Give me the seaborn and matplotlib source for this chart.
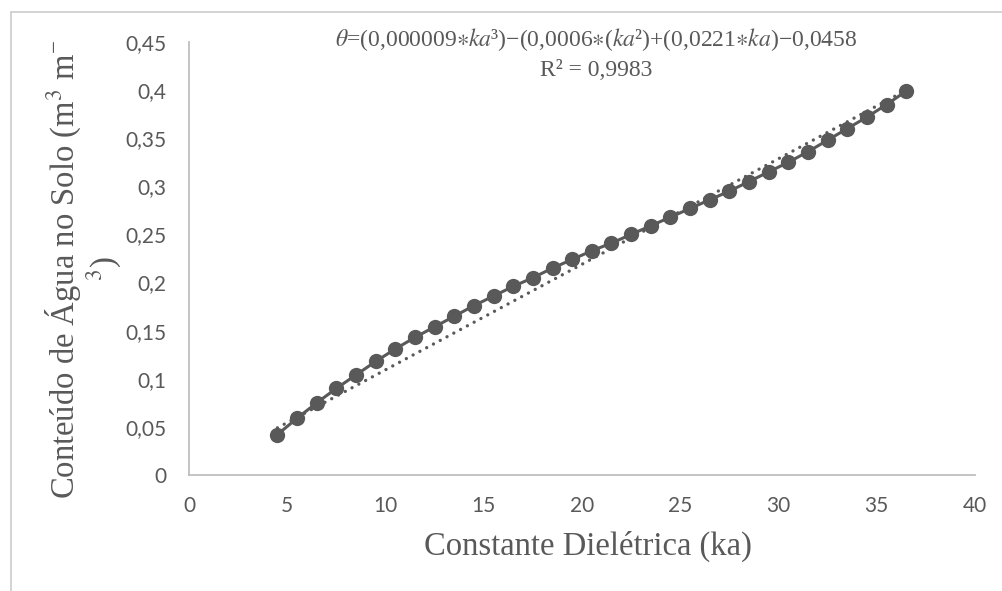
import numpy as np
import pandas as pd
import matplotlib
matplotlib.use("Agg")
import matplotlib.pyplot as plt
from matplotlib.lines import Line2D
import seaborn as sns

# ---- data ----
ka = [4.5, 5.5, 6.5, 7.5, 8.5, 9.5, 10.5, 11.5, 12.5, 13.5, 14.5, 15.5, 16.5,
      17.5, 18.5, 19.5, 20.5, 21.5, 22.5, 23.5, 24.5, 25.5, 26.5, 27.5, 28.5,
      29.5, 30.5, 31.5, 32.5, 33.5, 34.5, 35.5, 36.5]
theta = [0.042, 0.059, 0.075, 0.090, 0.104, 0.118, 0.131, 0.143, 0.154, 0.165,
         0.176, 0.186, 0.196, 0.205, 0.215, 0.224, 0.233, 0.241, 0.250, 0.259,
         0.268, 0.277, 0.286, 0.295, 0.305, 0.315, 0.325, 0.336, 0.348, 0.360,
         0.372, 0.385, 0.399]
trend_ka = [4.5, 36.5]
trend_theta = [0.049, 0.400]
x_ticks = [0, 5, 10, 15, 20, 25, 30, 35, 40]
y_ticks = [0, 0.05, 0.1, 0.15, 0.2, 0.25, 0.3, 0.35, 0.4, 0.45]
y_tick_labels = ["0", "0,05", "0,1", "0,15", "0,2", "0,25", "0,3", "0,35", "0,4", "0,45"]
eq_text = r"$\it{\theta}$=(0,000009$\ast$$\it{ka}$³)−(0,0006$\ast$($\it{ka}$²)+(0,0221$\ast$$\it{ka}$)−0,0458"
r2_text = "R² = 0,9983"
x_label = "Constante Dielétrica (ka)"
y_label = "Conteúdo de Água no Solo (m$^{3}$ m$^{\\mathdefault{-}}$\n$^{3}$)"

sns.set_theme(style="white")
plt.rcParams["font.family"] = ["Lato", "DejaVu Sans"]
plt.rcParams["mathtext.fontset"] = "stix"

W, H = 1003, 591
fig = plt.figure(figsize=(W / 100, H / 100), dpi=100)
ax = fig.add_axes([189 / W, 1 - 475 / H, (975 - 189) / W, (475 - 42) / H])

df = pd.DataFrame({"ka": ka, "theta": theta})
tr = pd.DataFrame({"ka": trend_ka, "theta": trend_theta})
grey = "#595959"

sns.lineplot(data=tr, x="ka", y="theta", ax=ax, color=grey, linewidth=2.4,
             dashes=False, zorder=2)
ax.lines[-1].set_linestyle((0, (0.01, 2.3)))
ax.lines[-1].set_dash_capstyle("round")

sns.lineplot(data=df, x="ka", y="theta", ax=ax, color=grey, linewidth=2.2,
             marker="o", markersize=11, markeredgewidth=0, zorder=3)

ax.set_xlim(0, 40)
ax.set_ylim(0, 0.45)
ax.set_xticks(x_ticks)
ax.set_xticklabels([str(t) for t in x_ticks])
ax.set_yticks(y_ticks)
ax.set_yticklabels(y_tick_labels)
ax.tick_params(axis="both", length=0, labelsize=15, colors=grey)
ax.tick_params(axis="x", pad=15)
ax.tick_params(axis="y", pad=16)

for s in ["top", "right"]:
    ax.spines[s].set_visible(False)
for s in ["left", "bottom"]:
    ax.spines[s].set_color("#BFBFBF")
    ax.spines[s].set_linewidth(1.3)

ax.set_xlabel("")
ax.set_ylabel("")
serif = ["Liberation Serif", "DejaVu Serif"]
fig.text(588 / W, 1 - 546 / H, x_label, ha="center", va="center",
         fontsize=23.5, family=serif, color=grey)
fig.text(84 / W, 1 - 269 / H, y_label, ha="center", va="center",
         rotation=90, fontsize=23.5, family=serif, color=grey, linespacing=1.05)
fig.text(596 / W, 1 - 40 / H, eq_text, ha="center", va="center",
         fontsize=17, family=serif, color=grey)
fig.text(596 / W, 1 - 70 / H, r2_text, ha="center", va="center",
         fontsize=17, family=serif, color=grey)

frame_c = "#D0D0D0"
fig.add_artist(Line2D([10.5 / W, 10.5 / W], [0, 1 - 12 / H], transform=fig.transFigure,
                      color=frame_c, linewidth=1.3))
fig.add_artist(Line2D([10.5 / W, 1.0], [1 - 12 / H, 1 - 12 / H], transform=fig.transFigure,
                      color=frame_c, linewidth=1.3))

fig.savefig("out.png", dpi=100)
